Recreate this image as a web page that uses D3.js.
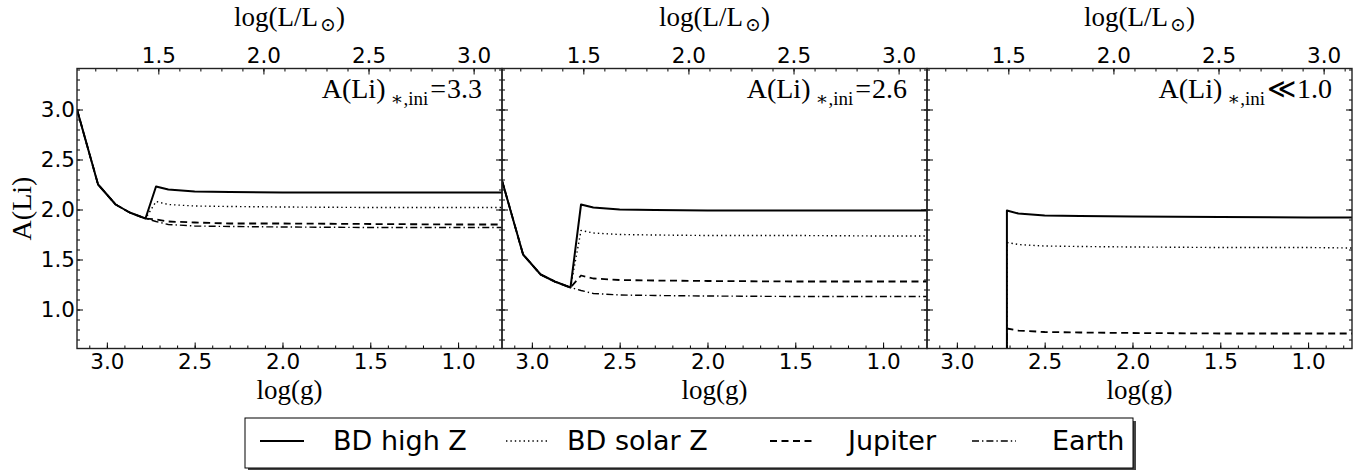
<!DOCTYPE html>
<html>
<head>
<meta charset="utf-8">
<script src="https://cdn.jsdelivr.net/npm/d3@7"></script>
<style>
  body { margin: 0; background: #fff; }
  svg { display: block; }
  .axis text { font-family: "DejaVu Sans", sans-serif; font-size: 21.5px; fill: #000; }
  .axis line { stroke: #000; stroke-width: 1; }
  .axis path { display: none; }
  .serif { font-family: "Liberation Serif", "DejaVu Serif", serif; fill: #000; }
  .legend text { font-family: "DejaVu Sans", sans-serif; font-size: 27px; fill: #000; }
</style>
</head>
<body>
<svg id="chart" width="1364" height="470"></svg>
<script>
// log(g) grid for the first two panels (the star evolves from high to low gravity)
const loggTrack = [3.17, 3.05, 2.95, 2.87, 2.78, 2.72, 2.65, 2.5, 2.3, 2.0, 1.5, 1.0, 0.75];
// the third panel only shows lithium after the engulfment at log(g) ~ 2.72
const loggLate = [2.715, 2.715, 2.65, 2.5, 2.3, 2.0, 1.5, 1.0, 0.75];

// A(Li)*,ini = 3.3
const highZ33   = [3.0, 2.25, 2.05, 1.97, 1.91, 2.23, 2.20, 2.18, 2.175, 2.17, 2.17, 2.17, 2.17];
const solarZ33  = [3.0, 2.25, 2.05, 1.97, 1.91, 2.08, 2.05, 2.035, 2.03, 2.025, 2.02, 2.02, 2.02];
const jupiter33 = [3.0, 2.25, 2.05, 1.97, 1.91, 1.90, 1.88, 1.87, 1.86, 1.86, 1.855, 1.85, 1.85];
const earth33   = [3.0, 2.25, 2.05, 1.97, 1.91, 1.88, 1.85, 1.835, 1.83, 1.825, 1.82, 1.82, 1.82];

// A(Li)*,ini = 2.6
const highZ26   = [2.29, 1.55, 1.35, 1.28, 1.22, 2.05, 2.02, 2.0, 1.995, 1.99, 1.99, 1.99, 1.99];
const solarZ26  = [2.29, 1.55, 1.35, 1.28, 1.22, 1.79, 1.765, 1.75, 1.745, 1.74, 1.74, 1.735, 1.735];
const jupiter26 = [2.29, 1.55, 1.35, 1.28, 1.22, 1.34, 1.31, 1.295, 1.29, 1.285, 1.28, 1.28, 1.28];
const earth26   = [2.29, 1.55, 1.35, 1.28, 1.22, 1.19, 1.16, 1.145, 1.14, 1.135, 1.13, 1.13, 1.13];

// A(Li)*,ini << 1.0
const highZ10   = [0.0, 1.99, 1.96, 1.94, 1.935, 1.93, 1.925, 1.92, 1.92];
const solarZ10  = [0.0, 1.67, 1.65, 1.635, 1.63, 1.625, 1.62, 1.62, 1.615];
const jupiter10 = [0.0, 0.81, 0.79, 0.775, 0.77, 0.765, 0.76, 0.76, 0.76];
const earth10   = [0.0, 0.30, 0.28, 0.27, 0.26, 0.26, 0.25, 0.25, 0.25];

const seriesNames = ['BD high Z', 'BD solar Z', 'Jupiter', 'Earth'];
const panelTags = ['3.3', '2.6', '1.0'];
const panelRel = ['=', '=', '\u226A'];

// axis ranges and ticks
const xDomain = [3.17, 0.75];
const yDomain = [0.61, 3.41];
const lumDomain = [1.113, 3.135];
const xTicks = [3.0, 2.5, 2.0, 1.5, 1.0];
const yTicks = [1.0, 1.5, 2.0, 2.5, 3.0];
const lumTicks = [1.5, 2.0, 2.5, 3.0];

const panels = [
  { logg: loggTrack, series: [highZ33, solarZ33, jupiter33, earth33] },
  { logg: loggTrack, series: [highZ26, solarZ26, jupiter26, earth26] },
  { logg: loggLate, series: [highZ10, solarZ10, jupiter10, earth10] }
];

// line styles, matplotlib-like
const styles = [
  { width: 2, dash: null },
  { width: 1.4, dash: '1.4,3' },
  { width: 1.8, dash: '7,4.5' },
  { width: 1.4, dash: '7,3,1.4,3' }
];

const svg = d3.select('#chart');
const padLeft = 77, padTop = 68.5, W = 425, H = 280;

const x = d3.scaleLinear().domain(xDomain).range([0, W]);
const xLum = d3.scaleLinear().domain(lumDomain).range([0, W]);
const y = d3.scaleLinear().domain(yDomain).range([H, 0]);

// minor tick values every 0.1
const minorOf = (dom) => {
  const lo = Math.min(...dom), hi = Math.max(...dom);
  return d3.range(Math.ceil(lo * 10), Math.floor(hi * 10) + 1).map(v => v / 10);
};

const line = d3.line()
  .x(d => x(d[0]))
  .y(d => y(d[1]));

panels.forEach((p, i) => {
  const g = svg.append('g')
    .attr('transform', `translate(${padLeft + i * W},${padTop})`);

  g.append('clipPath')
    .attr('id', `clip${i}`)
    .append('rect')
    .attr('width', W)
    .attr('height', H);

  // curves
  const curves = g.append('g').attr('clip-path', `url(#clip${i})`);
  p.series.forEach((vals, s) => {
    curves.append('path')
      .datum(p.logg.map((lg, k) => [lg, vals[k]]))
      .attr('d', line)
      .attr('fill', 'none')
      .attr('stroke', '#000')
      .attr('stroke-width', styles[s].width)
      .attr('stroke-dasharray', styles[s].dash)
      .attr('stroke-linejoin', 'round');
  });

  // bottom axis, ticks pointing inward
  g.append('g').attr('class', 'axis')
    .attr('transform', `translate(0,${H})`)
    .call(d3.axisBottom(x).tickValues(minorOf(xDomain)).tickSize(-3).tickFormat(''));
  g.append('g').attr('class', 'axis')
    .attr('transform', `translate(0,${H})`)
    .call(d3.axisBottom(x).tickValues(xTicks).tickSize(-6).tickPadding(5).tickFormat(d3.format('.1f')));

  // top axis: luminosity
  g.append('g').attr('class', 'axis')
    .call(d3.axisTop(xLum).tickValues(minorOf(lumDomain)).tickSize(-3).tickFormat(''));
  g.append('g').attr('class', 'axis')
    .call(d3.axisTop(xLum).tickValues(lumTicks).tickSize(-6).tickPadding(6).tickFormat(d3.format('.1f')));

  // left + right axes
  g.append('g').attr('class', 'axis')
    .call(d3.axisLeft(y).tickValues(minorOf(yDomain)).tickSize(-3).tickFormat(''));
  g.append('g').attr('class', 'axis')
    .call(d3.axisLeft(y).tickValues(yTicks).tickSize(-6).tickPadding(2)
      .tickFormat(i === 0 ? d3.format('.1f') : ''));
  g.append('g').attr('class', 'axis')
    .attr('transform', `translate(${W},0)`)
    .call(d3.axisRight(y).tickValues(minorOf(yDomain)).tickSize(-3).tickFormat(''));
  g.append('g').attr('class', 'axis')
    .attr('transform', `translate(${W},0)`)
    .call(d3.axisRight(y).tickValues(yTicks).tickSize(-6).tickFormat(''));

  // frame
  g.append('rect')
    .attr('width', W)
    .attr('height', H)
    .attr('fill', 'none')
    .attr('stroke', '#222')
    .attr('stroke-width', 1.4);

  // axis titles
  const topTitle = g.append('text')
    .attr('class', 'serif')
    .attr('x', W / 2)
    .attr('y', -43)
    .attr('text-anchor', 'middle')
    .style('font-size', '27px')
    .text('log(L/L');
  topTitle.append('tspan')
    .attr('dy', 5)
    .attr('dx', 2)
    .style('font-size', '19px')
    .text('\u2299');
  topTitle.append('tspan')
    .attr('dy', -5)
    .text(')');

  g.append('text')
    .attr('class', 'serif')
    .attr('x', W / 2)
    .attr('y', H + 50)
    .attr('text-anchor', 'middle')
    .style('font-size', '27px')
    .text('log(g)');

  // panel tag, e.g. A(Li)*,ini=3.3
  const tag = g.append('text')
    .attr('class', 'serif')
    .attr('x', W - 20)
    .attr('y', 29)
    .attr('text-anchor', 'end')
    .style('font-size', '28px')
    .text('A(Li)');
  tag.append('tspan')
    .attr('dx', 5)
    .attr('dy', 7)
    .style('font-size', '19px')
    .text('\u2217,ini');
  tag.append('tspan')
    .attr('dx', 2)
    .attr('dy', -7)
    .text(panelRel[i]);
  tag.append('tspan')
    .attr('dx', 1)
    .text(panelTags[i]);
});

// y title
svg.append('text')
  .attr('class', 'serif')
  .attr('transform', `translate(31,${padTop + H / 2}) rotate(-90)`)
  .attr('text-anchor', 'middle')
  .style('font-size', '28px')
  .text('A(Li)');

// legend with a shadow, one row
const legend = svg.append('g').attr('class', 'legend');
const box = { x: 245, y: 418, w: 888, h: 50 };
legend.append('rect')
  .attr('x', box.x + 3).attr('y', box.y + 3)
  .attr('width', box.w).attr('height', box.h)
  .attr('fill', '#444');
legend.append('rect')
  .attr('x', box.x).attr('y', box.y)
  .attr('width', box.w).attr('height', box.h)
  .attr('fill', '#fff')
  .attr('stroke', '#000')
  .attr('stroke-width', 1);

const handleStarts = [260, 506, 770, 972];
const textStarts = [333, 567, 848, 1052];
seriesNames.forEach((name, s) => {
  legend.append('line')
    .attr('x1', handleStarts[s]).attr('x2', handleStarts[s] + 44)
    .attr('y1', 441).attr('y2', 441)
    .attr('stroke', '#000')
    .attr('stroke-width', styles[s].width)
    .attr('stroke-dasharray', styles[s].dash);
  legend.append('text')
    .attr('x', textStarts[s])
    .attr('y', 450)
    .text(name);
});
</script>
</body>
</html>
